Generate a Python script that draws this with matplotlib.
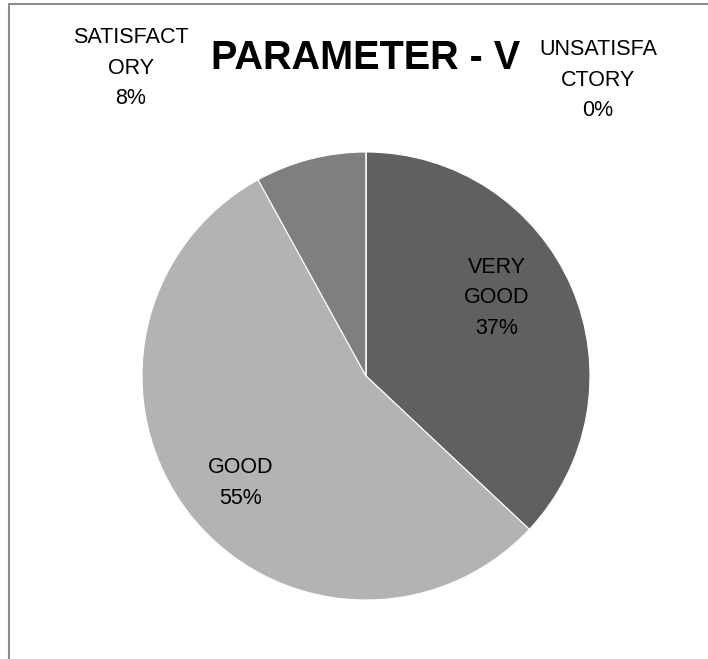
import matplotlib.pyplot as plt
from matplotlib.patches import Rectangle

plt.rcParams['font.family'] = ['Liberation Sans Narrow', 'Liberation Sans', 'DejaVu Sans']

categories = ["VERY\nGOOD", "GOOD", "SATISFACT\nORY", "UNSATISFA\nCTORY"]
values = [37, 55, 8, 0]
colors = ["#606060", "#b3b3b3", "#7f7f7f", "#404040"]

W, H = 708, 659
fig = plt.figure(figsize=(W / 100, H / 100), dpi=100)

# outer frame like the spreadsheet chart area
fig.patches.append(Rectangle((9 / W, -0.1), 1.2, (H - 4) / H + 0.1, transform=fig.transFigure,
                             fill=False, edgecolor="#8c8c8c", linewidth=1.5))

cx, cy, r = 366, 376, 224
ax = fig.add_axes([(cx - r) / W, (H - cy - r) / H, 2 * r / W, 2 * r / H])
ax.pie(values, colors=colors, startangle=90, counterclock=False, radius=1,
       wedgeprops=dict(edgecolor="white", linewidth=0.8))
ax.set_xlim(-1, 1)
ax.set_ylim(-1, 1)
ax.set_aspect("equal")
ax.axis("off")

def px(x, y):
    return x / W, 1 - y / H

label_pos = [(497, 298), (241, 483), (131, 68), (598, 80)]
for name, v, (x, y) in zip(categories, values, label_pos):
    fig.text(*px(x, y), f"{name}\n{v}%", ha="center", va="center",
             fontsize=15.5, linespacing=1.6)

fig.text(*px(366, 58), "PARAMETER - V", ha="center", va="center",
         fontsize=28.5, fontweight="bold")

fig.savefig("out.png", dpi=100)
